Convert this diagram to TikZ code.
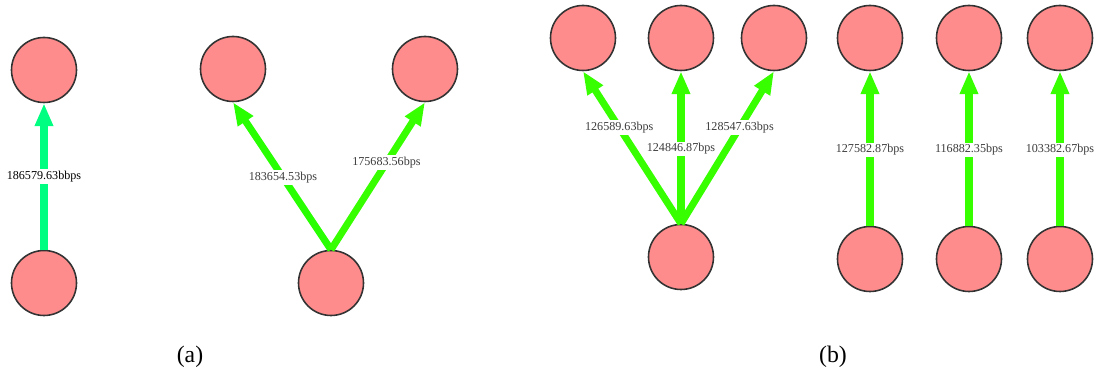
\documentclass[tikz,border=0pt]{standalone}
\usepackage{fontspec}
\setmainfont{Liberation Serif}
\usetikzlibrary{arrows.meta}
\definecolor{nodefill}{RGB}{255,140,140}
\definecolor{nodeline}{RGB}{51,51,51}
\definecolor{springedge}{RGB}{0,255,128}
\definecolor{limeedge}{RGB}{40,255,0}
\definecolor{limeedgeb}{RGB}{55,255,0}
\definecolor{labelgray}{RGB}{60,60,60}
\tikzset{
  host/.style={circle, draw=nodeline, line width=0.9pt, fill=nodefill, minimum size=37pt, inner sep=0pt},
  flow/.style={line width=4pt, -{Triangle[width=9.8pt,length=13pt]}},
  rate/.style={fill=white, inner sep=1pt, font=\fontsize{6.9pt}{7pt}\selectfont, text=labelgray},
  caption/.style={font=\fontsize{13.5pt}{15pt}\selectfont, text=black}
}
\begin{document}
\begin{tikzpicture}[x=0.02cm, y=-0.02cm]
\useasboundingbox (0,0) rectangle (1100,377);
% (a) left pair
\node[host] (a1t) at (44,70) {};
\node[host] (a1b) at (44,283) {};
% (a) V
\node[host] (a2l) at (233,69) {};
\node[host] (a2r) at (425,69) {};
\node[host] (a2b) at (331,283) {};
% (b) fan
\node[host] (b1l) at (583,38) {};
\node[host] (b1m) at (681,38) {};
\node[host] (b1r) at (774,38) {};
\node[host] (b1b) at (681,257) {};
% (b) parallel pairs
\node[host] (b2t) at (870,38) {};
\node[host] (b2b) at (870,259) {};
\node[host] (b3t) at (969,38) {};
\node[host] (b3b) at (969,259) {};
\node[host] (b4t) at (1060,38) {};
\node[host] (b4b) at (1060,259) {};
% edges
\draw[flow, springedge] (a1b.north) -- node[rate, pos=0.5, text=black] {186579.63bbps} (a1t.south);
\draw[flow, limeedge] (a2b.north) -- node[rate, pos=0.49] {183654.53bps} (a2l.south);
\draw[flow, limeedgeb] (a2b.north) -- node[rate, pos=0.59] {175683.56bps} (a2r.south);
\draw[flow, limeedgeb] (b1b.north) -- node[rate, pos=0.63] {126589.63bps} (b1l.south);
\draw[flow, limeedgeb] (b1b.north) -- node[rate, pos=0.49] {124846.87bps} (b1m.south);
\draw[flow, limeedgeb] (b1b.north) -- node[rate, pos=0.63] {128547.63bps} (b1r.south);
\draw[flow, limeedgeb] (b2b.north) -- node[rate, pos=0.49] {127582.87bps} (b2t.south);
\draw[flow, limeedgeb] (b3b.north) -- node[rate, pos=0.49] {116882.35bps} (b3t.south);
\draw[flow, limeedgeb] (b4b.north) -- node[rate, pos=0.49] {103382.67bps} (b4t.south);
% captions
\node[caption] (capa) at (190,357) {(a)};
\node[caption] (capb) at (833,357) {(b)};
\end{tikzpicture}
\end{document}
